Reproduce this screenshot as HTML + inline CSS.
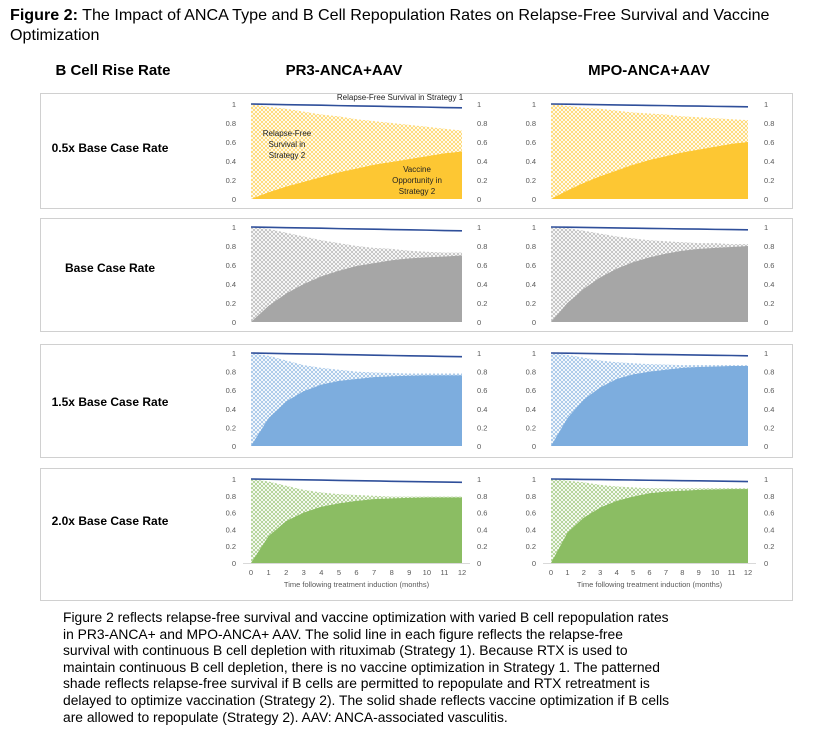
<!DOCTYPE html>
<html><head><meta charset="utf-8">
<style>
body{margin:0;width:829px;height:741px;background:#fff;position:relative;overflow:hidden;font-family:"Liberation Sans",Arial,sans-serif;color:#000}
.t{position:absolute;white-space:nowrap}
#title{left:10px;top:5px;font-size:16.1px;line-height:20px}
.hdr{font-weight:bold;font-size:15px;top:62px;transform:translateX(-50%)}
#caption{position:absolute;left:63px;top:609px;font-size:13.85px;line-height:16.6px;white-space:nowrap}
svg{position:absolute;left:0;top:0}
</style></head><body>
<div class="t" id="title"><b>Figure 2:</b> The Impact of ANCA Type and B Cell Repopulation Rates on Relapse-Free Survival and Vaccine<br>Optimization</div>
<div class="t hdr" style="left:113px">B Cell Rise Rate</div>
<div class="t hdr" style="left:344px">PR3-ANCA+AAV</div>
<div class="t hdr" style="left:649px">MPO-ANCA+AAV</div>
<svg id="chart" width="829" height="741"></svg>
<div id="caption">Figure 2 reflects relapse-free survival and vaccine optimization with varied B cell repopulation rates<br>in PR3-ANCA+ and MPO-ANCA+ AAV. The solid line in each figure reflects the relapse-free<br>survival with continuous B cell depletion with rituximab (Strategy 1). Because RTX is used to<br>maintain continuous B cell depletion, there is no vaccine optimization in Strategy 1. The patterned<br>shade reflects relapse-free survival if B cells are permitted to repopulate and RTX retreatment is<br>delayed to optimize vaccination (Strategy 2). The solid shade reflects vaccine optimization if B cells<br>are allowed to repopulate (Strategy 2). AAV: ANCA-associated vasculitis.</div>
<script>
const months=[0,1,2,3,4,5,6,7,8,9,10,11,12];
const yTicks=[0,0.2,0.4,0.6,0.8,1];
const yTickLabels=["0","0.2","0.4","0.6","0.8","1"];
const rowLabels=["0.5x Base Case Rate","Base Case Rate","1.5x Base Case Rate","2.0x Base Case Rate"];
const rowColors=["#fdc733","#a6a6a6","#7dadde","#8bbd63"];
const strat1PR3=[1,0.997,0.993,0.99,0.987,0.983,0.98,0.977,0.973,0.97,0.967,0.963,0.96];
const strat1MPO=[1,0.998,0.995,0.993,0.99,0.988,0.985,0.983,0.98,0.978,0.975,0.973,0.97];
const rfs2=[
 [[1,0.97,0.95,0.92,0.89,0.87,0.84,0.82,0.80,0.78,0.76,0.74,0.72],[1,0.98,0.96,0.95,0.93,0.91,0.9,0.89,0.87,0.86,0.85,0.84,0.83]],
 [[1,0.98,0.94,0.9,0.86,0.83,0.8,0.78,0.77,0.75,0.74,0.73,0.73],[1,0.99,0.96,0.93,0.9,0.88,0.86,0.85,0.84,0.83,0.83,0.82,0.82]],
 [[1,0.97,0.92,0.87,0.84,0.82,0.8,0.79,0.785,0.78,0.78,0.78,0.78],[1,0.98,0.95,0.92,0.9,0.89,0.88,0.875,0.87,0.87,0.87,0.87,0.87]],
 [[1,0.97,0.92,0.87,0.84,0.82,0.81,0.8,0.79,0.79,0.79,0.79,0.79],[1,0.98,0.96,0.93,0.91,0.9,0.89,0.89,0.89,0.89,0.89,0.89,0.89]]
];
const vaccine=[
 [[0,0.07,0.13,0.18,0.23,0.28,0.32,0.36,0.39,0.42,0.45,0.48,0.5],[0,0.09,0.17,0.24,0.3,0.36,0.41,0.45,0.49,0.52,0.55,0.58,0.6]],
 [[0,0.17,0.3,0.4,0.48,0.54,0.59,0.62,0.65,0.67,0.68,0.69,0.7],[0,0.2,0.35,0.47,0.56,0.63,0.68,0.72,0.75,0.77,0.78,0.79,0.8]],
 [[0,0.3,0.48,0.59,0.66,0.7,0.72,0.74,0.75,0.755,0.76,0.76,0.76],[0,0.3,0.5,0.63,0.72,0.77,0.8,0.82,0.84,0.85,0.855,0.86,0.86]],
 [[0,0.32,0.5,0.6,0.67,0.71,0.74,0.76,0.77,0.775,0.78,0.78,0.78],[0,0.36,0.54,0.66,0.74,0.79,0.83,0.85,0.86,0.87,0.875,0.88,0.88]]
];
const NS="http://www.w3.org/2000/svg";
const svg=document.getElementById('chart');
function el(tag,attrs,parent){const e=document.createElementNS(NS,tag);for(const k in attrs)e.setAttribute(k,attrs[k]);(parent||svg).appendChild(e);return e;}
const rows=[{top:93,bot:208,y1:104,y0:199,ly:152},{top:218,bot:331,y1:227,y0:322,ly:272},{top:344,bot:457,y1:353,y0:446,ly:406},{top:468,bot:600,y1:479,y0:563,ly:525}];
const cols=[{x0:251,x1:462,ll:236,rl:477},{x0:551,x1:748,ll:536,rl:764}];
const defs=el('defs',{});
rowColors.forEach((c,i)=>{
 const p=el('pattern',{id:'hatch'+i,width:4,height:4,patternUnits:'userSpaceOnUse'},defs);
 el('rect',{width:4,height:4,fill:'#fff'},p);
 el('path',{d:'M0,4 L4,0 M0,0 L4,4',stroke:c,'stroke-width':0.7,opacity:0.85},p);
});
function txt(x,y,s,size,anchor,fill,parent){const t=el('text',{x:x,y:y,'font-size':size,'text-anchor':anchor||'start',fill:fill||'#595959','font-family':'Liberation Sans, Arial, sans-serif'},parent);t.textContent=s;return t;}
rows.forEach((r,ri)=>{
 const g=el('g',{});
 
 
 const box=el('rect',{x:40.5,y:r.top+0.5,width:752,height:r.bot-r.top,fill:'none',stroke:'#d0d0d0'},g);
 
 
 const lab=txt(110,r.ly,rowLabels[ri],12,'middle','#000',g);
 lab.setAttribute('font-weight','bold');
 
 
 cols.forEach((c,ci)=>{
  const xs=m=>c.x0+(c.x1-c.x0)*m/12;
  const ys=v=>r.y0-(r.y0-r.y1)*v;
  const up=rfs2[ri][ci], va=vaccine[ri][ci], s1=ci?strat1MPO:strat1PR3;
  let d='M'+xs(0)+','+ys(0);months.forEach((m,i)=>d+=' L'+xs(m)+','+ys(up[i]));d+=' L'+xs(12)+','+ys(0)+'Z';
  const a=el('path',{d:d,fill:'url(#hatch'+ri+')'},g);
  
  
  d='M'+xs(0)+','+ys(0);months.forEach((m,i)=>d+=' L'+xs(m)+','+ys(va[i]));d+=' L'+xs(12)+','+ys(0)+'Z';
  const b=el('path',{d:d,fill:rowColors[ri]},g);
  
  
  d='';months.forEach((m,i)=>d+=(i?' L':'M')+xs(m)+','+ys(s1[i]));
  const l=el('path',{d:d,fill:'none',stroke:'#2f4f9a','stroke-width':1.6},g);
  
  
  yTicks.forEach((v,i)=>{
   const t1=txt(c.ll,ys(v)+3,yTickLabels[i],7.5,'end','#595959',g);
   
   
   const t2=txt(c.rl,ys(v)+3,yTickLabels[i],7.5,'start','#595959',g);
   
   
  });
  if(ri===3){
   el('line',{x1:c.x0-8,x2:c.x1+8,y1:r.y0+0.5,y2:r.y0+0.5,stroke:'#d9d9d9'},g);
   months.forEach(m=>{
    const t=txt(xs(m),r.y0+12,String(m),7.5,'middle','#595959',g);
    
    
   });
   const xt=txt((c.x0+c.x1)/2,r.y0+24,'Time following treatment induction (months)',7.5,'middle','#595959',g);
   
   
  }
 });
});
const ann=el('g',{});


txt(400,100,'Relapse-Free Survival in Strategy 1',8,'middle','#222',ann);
['Relapse-Free','Survival in','Strategy 2'].forEach((s,i)=>txt(287,136+i*11,s,8,'middle','#222',ann));
['Vaccine','Opportunity in','Strategy 2'].forEach((s,i)=>txt(417,172+i*11,s,8,'middle','#222',ann));
</script>
</body></html>
